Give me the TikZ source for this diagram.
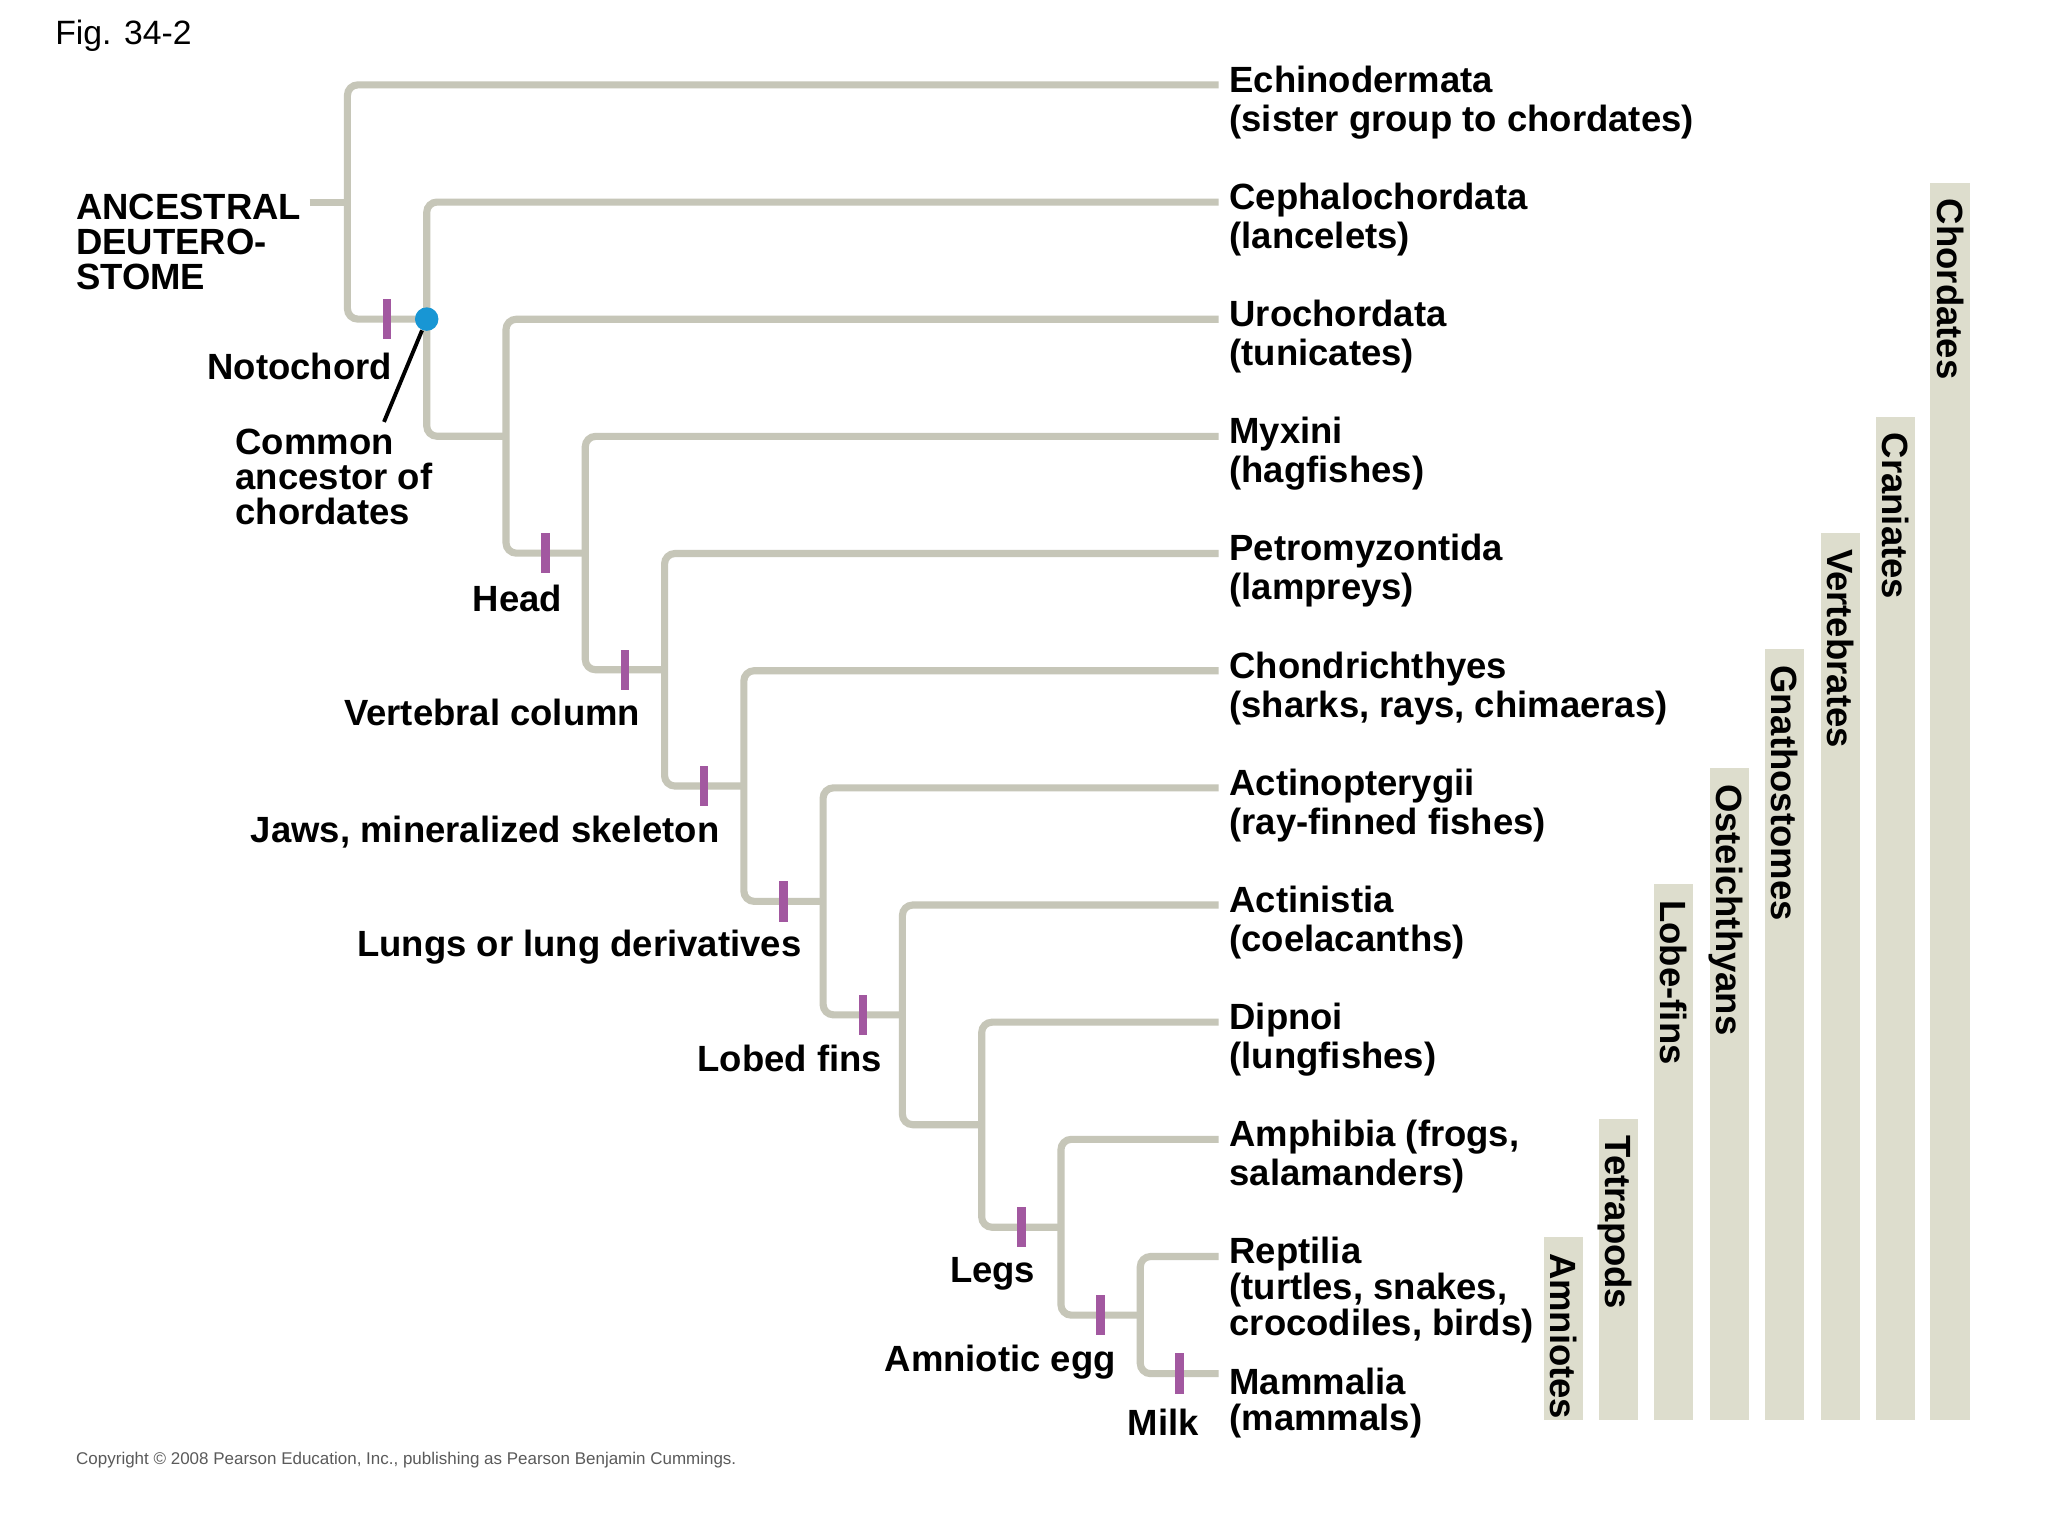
\documentclass[tikz,border=0pt]{standalone}
\usepackage{fontspec}
\setmainfont{Liberation Sans}
\usepackage{tikz}
\usetikzlibrary{calc}

\definecolor{treegray}{RGB}{198,198,184}
\definecolor{cladefill}{RGB}{221,221,205}
\definecolor{traitpurple}{RGB}{162,88,160}
\definecolor{ancblue}{RGB}{24,150,212}
\definecolor{copygray}{RGB}{90,90,90}

\tikzset{
    branch/.style={line width=3.1pt, treegray, rounded corners=4.5pt},
    trait/.style={rectangle, fill=traitpurple, inner sep=0pt, minimum width=0.13cm, minimum height=0.62cm},
    ancdot/.style={circle, fill=ancblue, inner sep=0pt, minimum size=0.36cm},
    pointer/.style={line width=1.7pt, black},
    taxon/.style={anchor=north west, inner sep=0pt, align=left, font=\bfseries\fontsize{15.9}{17}\selectfont},
    charlbl/.style={anchor=base east, inner sep=0pt, font=\bfseries\fontsize{15.9}{17}\selectfont},
    clade/.style={rotate=-90, anchor=base west, inner sep=0pt, font=\bfseries\fontsize{15.9}{17}\selectfont},
}

\begin{document}
\begin{tikzpicture}[x=0.02cm, y=-0.02cm]
    \useasboundingbox[fill=white] (0,0) rectangle (1568,1176);

    \node[anchor=base west, inner sep=0pt, font=\fontsize{14.7}{16}\selectfont] (fig) at (42,34) {Fig. 34-2};

    % clade bars on the right
    \foreach \cx/\ty/\id/\nm in {1493/140/chor/Chordates, 1451/319/cran/Craniates, 1409/408/vert/Vertebrates,
        1366/497/gnat/Gnathostomes, 1324/588/oste/Osteichthyans, 1281/677/lobe/Lobe-fins,
        1239/857/tetr/Tetrapods, 1197/947/amni/Amniotes} {
        \fill[cladefill] (\cx-15,\ty) rectangle (\cx+15,1087);
        \node[clade] (c\id) at (\cx-10,\ty+12) {\nm};
    }

    % taxa
    \foreach \i/\dy/\txt in {1/-15/{Echinodermata\\(sister group to chordates)}, 2/-15/{Cephalochordata\\(lancelets)},
        3/-15/{Urochordata\\(tunicates)}, 4/-15/{Myxini\\(hagfishes)}, 5/-15/{Petromyzontida\\(lampreys)},
        6/-15/{Chondrichthyes\\(sharks, rays, chimaeras)}, 7/-15/{Actinopterygii\\(ray-finned fishes)},
        8/-15/{Actinistia\\(coelacanths)}, 9/-15/{Dipnoi\\(lungfishes)}, 10/-15/{Amphibia (frogs,\\salamanders)},
        11/-15/{Reptilia\\[-1.4pt](turtles, snakes,\\[-1.4pt]crocodiles, birds)}, 12/-5/{Mammalia\\[-1.2pt](mammals)}} {
        \pgfmathsetmacro\ly{65+89.7*(\i-1)}
        \coordinate (e\i) at (933,\ly);
        \node[taxon] (t\i) at (941,\ly+\dy) {\txt};
    }

    % branching points
    \foreach \k/\jy in {0/154.7, 1/244.3, 2/334, 3/423.5, 4/512.8, 5/601.8,
        6/690.1, 7/777, 8/861.1, 9/939.6, 10/1006.9} {
        \coordinate (n\k) at ({266+60.7*\k},\jy);
    }

    \coordinate (root) at (237,154.7);
    \draw[branch] (root) -- (n0);
    \foreach \k [evaluate=\k as \j using int(\k+1)] in {0,...,9} {
        \draw[branch] (e\j) -| (n\k |- n\j) -- (n\j);
    }
    \draw[branch] (e11) -| (n10 |- e12) -- (e12);

    % derived characters
    \foreach \a/\b/\nm/\txt/\dx/\dy in {0/1/noto/Notochord/4/46, 2/3/head/Head/13/45,
        3/4/vcol/Vertebral column/12/43, 4/5/jaws/{Jaws, mineralized skeleton}/12/43,
        5/6/lung/Lungs or lung derivatives/14/42, 6/7/lfin/Lobed fins/15/43,
        8/9/legs/Legs/11/42, 9/10/egg/Amniotic egg/12/43} {
        \node[trait] (m\nm) at ($(n\a |- n\b)!0.5!(n\b)$) {};
        \node[charlbl] (l\nm) at ([shift={(\dx,\dy)}]m\nm.center) {\txt};
    }
    \node[trait] (mmilk) at ($(n10 |- e12)!0.5!(e12)$) {};
    \node[charlbl] (lmilk) at ([shift={(15,47)}]mmilk.center) {Milk};

    % common ancestor
    \node[ancdot] (cca) at (n1) {};
    \coordinate (ptr) at (294,323);
    \draw[pointer] (cca) -- (ptr);

    \node[taxon, font=\bfseries\fontsize{15.9}{15.3}\selectfont] (anc) at (58,148) {ANCESTRAL\\DEUTERO-\\STOME};
    \node[taxon, font=\bfseries\fontsize{15.9}{15.3}\selectfont] (lcomm) at (180,328) {Common\\ancestor of\\chordates};

    \node[anchor=base west, inner sep=0pt, text=copygray, font=\fontsize{7.4}{8}\selectfont] (copy) at (58,1121)
        {Copyright © 2008 Pearson Education, Inc., publishing as Pearson Benjamin Cummings.};
\end{tikzpicture}
\end{document}
